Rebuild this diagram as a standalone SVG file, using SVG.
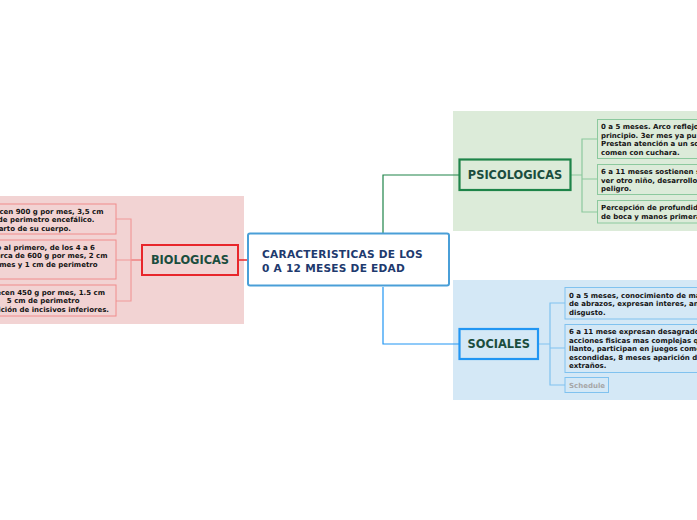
<svg xmlns="http://www.w3.org/2000/svg" width="697" height="520" viewBox="0 0 697 520">
<style>
  .leaf{font-family:"DejaVu Sans","Liberation Sans",sans-serif;font-weight:bold;font-size:7px;fill:#141414}
  .topic{font-family:"DejaVu Sans","Liberation Sans",sans-serif;font-weight:bold;font-size:11.4px;fill:#1b4d3e;text-anchor:middle}
  .main{font-family:"DejaVu Sans","Liberation Sans",sans-serif;font-weight:bold;font-size:10.6px;letter-spacing:0.25px;fill:#1e3a6e}
  .lbox{fill:#f2d3d3;stroke:#f08c8c;stroke-width:1}
  .gbox{fill:#dcebd9;stroke:#8cc99e;stroke-width:1}
  .bbox{fill:#d4e8f6;stroke:#80c2ef;stroke-width:1}
  .c{fill:none}
</style>
<rect x="0" y="0" width="697" height="520" fill="#ffffff"/>
<rect x="0" y="196" width="244" height="128" fill="#f2d3d3"/>
<rect x="453" y="111" width="244" height="120" fill="#dcebd9"/>
<rect x="453" y="280" width="244" height="120" fill="#d4e8f6"/>

<g id="connectors">
  <path class="c" d="M247 260 H238" stroke="#e8262b" stroke-width="1.5"/>
  <path class="c" d="M142 260 H131" stroke="#ee6f6f" stroke-width="1.2"/>
  <path class="c" d="M116 219 H131 V301 H116 M116 260 H131" stroke="#f09a9a" stroke-width="1.2"/>
  <path class="c" d="M383 233 V175 H459" stroke="#1e8449" stroke-width="1.2"/>
  <path class="c" d="M571 175 H582 M597 139 H582 V212 H597 M582 179 H597" stroke="#8cc99e" stroke-width="1.2"/>
  <path class="c" d="M383 287 V344 H459" stroke="#2196f3" stroke-width="1.2"/>
  <path class="c" d="M538 344 H550 M565 303 H550 V385 H565 M550 348 H565" stroke="#80c2ef" stroke-width="1.2"/>
</g>

<g id="central">
  <rect x="248" y="233.5" width="201" height="52" rx="2" fill="#ffffff" stroke="#4a9fd8" stroke-width="2"/>
  <text class="main" x="262" y="258">CARACTERISTICAS DE LOS</text>
  <text class="main" x="262" y="272">0 A 12 MESES DE EDAD</text>
</g>

<g id="biologicas">
  <rect x="142" y="245" width="96" height="30" fill="#f2d3d3" stroke="#e8262b" stroke-width="2"/>
  <text class="topic" x="190" y="264">BIOLOGICAS</text>
</g>
<g id="bio-1">
  <rect class="lbox" x="-5" y="204" width="121" height="30"/>
  <text class="leaf" text-anchor="end" x="103.5" y="213.5">ecen 900 g por mes, 3,5 cm</text>
  <text class="leaf" text-anchor="end" x="94.5" y="222">de perimetro encefálico.</text>
  <text class="leaf" text-anchor="end" x="71" y="230.5">arto de su cuerpo.</text>
</g>
<g id="bio-2">
  <rect class="lbox" x="-5" y="240" width="121" height="39"/>
  <text class="leaf" text-anchor="end" x="95" y="249.5">o al primero, de los 4 a 6</text>
  <text class="leaf" text-anchor="end" x="107.5" y="258">erca de 600 g por mes, 2 cm</text>
  <text class="leaf" text-anchor="end" x="97.5" y="266.5">mes y 1 cm de perimetro</text>
</g>
<g id="bio-3">
  <rect class="lbox" x="-5" y="285" width="121" height="31"/>
  <text class="leaf" text-anchor="end" x="105" y="294.5">ecen 450 g por mes, 1.5 cm</text>
  <text class="leaf" text-anchor="end" x="79.5" y="303">5 cm de perimetro</text>
  <text class="leaf" text-anchor="end" x="109" y="311.5">ición de incisivos inferiores.</text>
</g>

<g id="psicologicas">
  <rect x="459.5" y="159.5" width="111" height="30.5" fill="#dcebd9" stroke="#1e8449" stroke-width="2.2"/>
  <text class="topic" x="515" y="179">PSICOLOGICAS</text>
</g>
<g id="psi-1">
  <rect class="gbox" x="597.5" y="119.5" width="110" height="39"/>
  <text class="leaf" x="601" y="129">0 a 5 meses. Arco reflejo</text>
  <text class="leaf" x="601" y="137.5">principio. 3er mes ya pu</text>
  <text class="leaf" x="601" y="146">Prestan atención a un so</text>
  <text class="leaf" x="601" y="154.5">comen con cuchara.</text>
</g>
<g id="psi-2">
  <rect class="gbox" x="597.5" y="164.5" width="110" height="30"/>
  <text class="leaf" x="601" y="174">6 a 11 meses sostienen s</text>
  <text class="leaf" x="601" y="182.5">ver otro niño, desarrollo</text>
  <text class="leaf" x="601" y="191">peligro.</text>
</g>
<g id="psi-3">
  <rect class="gbox" x="597.5" y="200.5" width="110" height="22.5"/>
  <text class="leaf" x="601" y="210">Percepción de profundid</text>
  <text class="leaf" x="601" y="218.5">de boca y manos primera</text>
</g>

<g id="sociales">
  <rect x="459.5" y="329" width="78.5" height="30" fill="#d4e8f6" stroke="#2196f3" stroke-width="2.2"/>
  <text class="topic" x="498.8" y="348">SOCIALES</text>
</g>
<g id="soc-1">
  <rect class="bbox" x="565" y="287.5" width="140" height="31.5"/>
  <text class="leaf" x="569" y="297.5">0 a 5 meses, conocimiento de ma</text>
  <text class="leaf" x="569" y="306">de abrazos, expresan interes, an</text>
  <text class="leaf" x="569" y="314.5">disgusto.</text>
</g>
<g id="soc-2">
  <rect class="bbox" x="565" y="324.5" width="140" height="48"/>
  <text class="leaf" x="569" y="334">6 a 11 mese expresan desagrado</text>
  <text class="leaf" x="569" y="342.5">acciones fisicas mas complejas q</text>
  <text class="leaf" x="569" y="351">llanto, participan en juegos come</text>
  <text class="leaf" x="569" y="359.5">escondidas, 8 meses aparición de</text>
  <text class="leaf" x="569" y="368">extraños.</text>
</g>
<g id="soc-3">
  <rect class="bbox" x="565" y="377.5" width="43.5" height="15"/>
  <text class="leaf" x="569" y="387.5" style="fill:#a6a6a6">Schedule</text>
</g>
</svg>
